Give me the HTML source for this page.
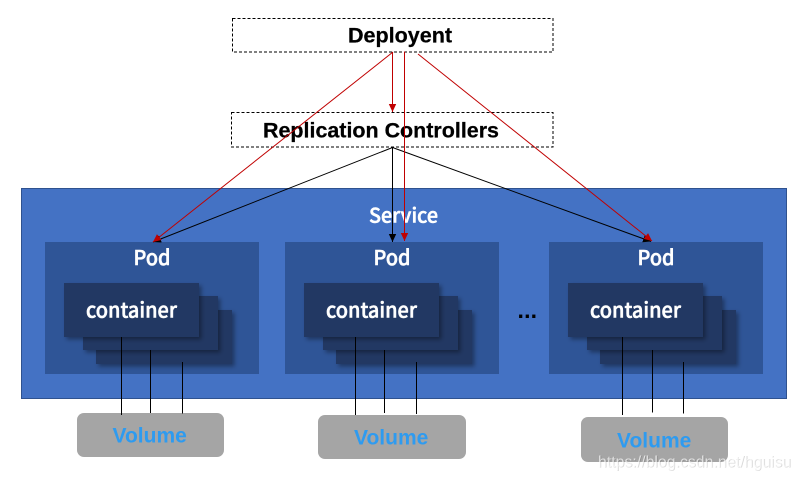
<!DOCTYPE html>
<html>
<head>
<meta charset="utf-8">
<style>
html,body{margin:0;padding:0;background:#fff;width:800px;height:480px;overflow:hidden}
svg{display:block}
.y{font-family:"Noto Sans CJK SC","WenQuanYi Zen Hei","Liberation Sans",sans-serif;font-weight:500;fill:#fff;stroke:#fff;stroke-width:.5px}
.l{font-family:"Liberation Sans",sans-serif;font-weight:bold}
.b{stroke:#000;stroke-width:.25px}
.v{font-size:21px;fill:#2E9BF0}
</style>
</head>
<body>
<svg width="800" height="480" viewBox="0 0 800 480" xmlns="http://www.w3.org/2000/svg">
<defs>
<filter id="s" x="-10%" y="-15%" width="125%" height="135%">
<feDropShadow dx="2.5" dy="2.5" stdDeviation="2" flood-color="#000" flood-opacity="0.35"/>
</filter>
<marker id="r" markerUnits="userSpaceOnUse" markerWidth="8" markerHeight="8" refX="8" refY="4" orient="auto"><path d="M0 0.3L8 4L0 7.7Z" fill="#C00000"/></marker>
<marker id="k" markerUnits="userSpaceOnUse" markerWidth="8" markerHeight="8" refX="8" refY="4" orient="auto"><path d="M0 0.3L8 4L0 7.7Z" fill="#000"/></marker>
</defs>

<rect x="232.5" y="18.5" width="320.5" height="33.5" fill="#fff" stroke="#000" stroke-dasharray="3 2"/>
<rect x="231.5" y="112.5" width="321.5" height="34.5" fill="#fff" stroke="#000" stroke-dasharray="3 2"/>
<text class="l b" x="348" y="42.5" font-size="21.3" textLength="104" lengthAdjust="spacingAndGlyphs">Deployent</text>
<text class="l b" x="263" y="137.5" font-size="21.4" textLength="236" lengthAdjust="spacingAndGlyphs">Replication Controllers</text>

<rect x="21.5" y="188.5" width="765" height="210" fill="#4472C4" stroke="#2F528F"/>
<text class="y" x="369" y="222.5" font-size="20" textLength="69" lengthAdjust="spacingAndGlyphs">Service</text>

<rect x="45" y="242" width="214" height="132" fill="#2F5597"/>
<rect x="285" y="242" width="214" height="132" fill="#2F5597"/>
<rect x="549" y="242" width="214" height="132" fill="#2F5597"/>

<text class="y" x="133.5" y="265" font-size="20.5" textLength="37" lengthAdjust="spacingAndGlyphs">Pod</text>
<text class="y" x="373.5" y="265" font-size="20.5" textLength="37" lengthAdjust="spacingAndGlyphs">Pod</text>
<text class="y" x="637.5" y="265" font-size="20.5" textLength="37" lengthAdjust="spacingAndGlyphs">Pod</text>

<g fill="#203864" filter="url(#s)"><rect x="96" y="310" width="136" height="54"/></g>
<g fill="#203864" filter="url(#s)"><rect x="83" y="296" width="135" height="54"/></g>
<g fill="#203864" filter="url(#s)"><rect x="64" y="283" width="135" height="54"/></g>
<g fill="#203864" filter="url(#s)"><rect x="336" y="310" width="136" height="54"/></g>
<g fill="#203864" filter="url(#s)"><rect x="323" y="296" width="135" height="54"/></g>
<g fill="#203864" filter="url(#s)"><rect x="304" y="283" width="135" height="54"/></g>
<g fill="#203864" filter="url(#s)"><rect x="600" y="310" width="136" height="54"/></g>
<g fill="#203864" filter="url(#s)"><rect x="587" y="296" width="135" height="54"/></g>
<g fill="#203864" filter="url(#s)"><rect x="568" y="283" width="135" height="54"/></g>

<text class="y" x="86" y="317.5" font-size="20.5" textLength="91" lengthAdjust="spacingAndGlyphs">container</text>
<text class="y" x="326" y="317.5" font-size="20.5" textLength="91" lengthAdjust="spacingAndGlyphs">container</text>
<text class="y" x="590" y="317.5" font-size="20.5" textLength="91" lengthAdjust="spacingAndGlyphs">container</text>

<text class="l" x="517.5" y="318" font-size="23" fill="#000" letter-spacing="0.2">...</text>

<rect x="77" y="413" width="147" height="44" rx="7" fill="#A5A5A5"/>
<rect x="318" y="415" width="148" height="44" rx="7" fill="#A5A5A5"/>
<rect x="581" y="417" width="147" height="45" rx="7" fill="#A5A5A5"/>
<text class="l v" x="112.5" y="442.5">Volume</text>
<text class="l v" x="354" y="444.5">Volume</text>
<text class="l v" x="617" y="447.5">Volume</text>

<g stroke="#000" stroke-width="1">
<line x1="121.5" y1="337" x2="121.5" y2="415"/>
<line x1="150.5" y1="350" x2="150.5" y2="413"/>
<line x1="182.5" y1="362" x2="182.5" y2="413.5"/>
<line x1="355.5" y1="337" x2="355.5" y2="415"/>
<line x1="384.5" y1="350" x2="384.5" y2="413"/>
<line x1="416.5" y1="362" x2="416.5" y2="414"/>
<line x1="622.5" y1="337" x2="622.5" y2="415"/>
<line x1="652.5" y1="350" x2="652.5" y2="412.5"/>
<line x1="683.5" y1="362" x2="683.5" y2="413.5"/>
</g>

<g stroke="#000" stroke-width="1" fill="none">
<line x1="392.5" y1="147.5" x2="153" y2="242" marker-end="url(#k)"/>
<line x1="392.5" y1="147.5" x2="392.5" y2="242" marker-end="url(#k)"/>
<line x1="392.5" y1="147.5" x2="651" y2="241.5" marker-end="url(#k)"/>
</g>
<g stroke="#C00000" stroke-width="1" fill="none">
<line x1="393" y1="52" x2="153" y2="242" marker-end="url(#r)"/>
<line x1="392.5" y1="52" x2="392.5" y2="112" marker-end="url(#r)"/>
<line x1="404.5" y1="51.5" x2="404.5" y2="241" marker-end="url(#r)"/>
<line x1="418" y1="54" x2="652" y2="241" marker-end="url(#r)"/>
</g>

<text x="598.7" y="467.7" font-family="Liberation Sans, sans-serif" font-size="16" fill="#000" fill-opacity="0.16" textLength="193" lengthAdjust="spacingAndGlyphs">https://blog.csdn.net/hguisu</text>
<text x="598" y="467" font-family="Liberation Sans, sans-serif" font-size="16" fill="#fff" fill-opacity="0.7" textLength="193" lengthAdjust="spacingAndGlyphs">https://blog.csdn.net/hguisu</text>
</svg>
</body>
</html>
